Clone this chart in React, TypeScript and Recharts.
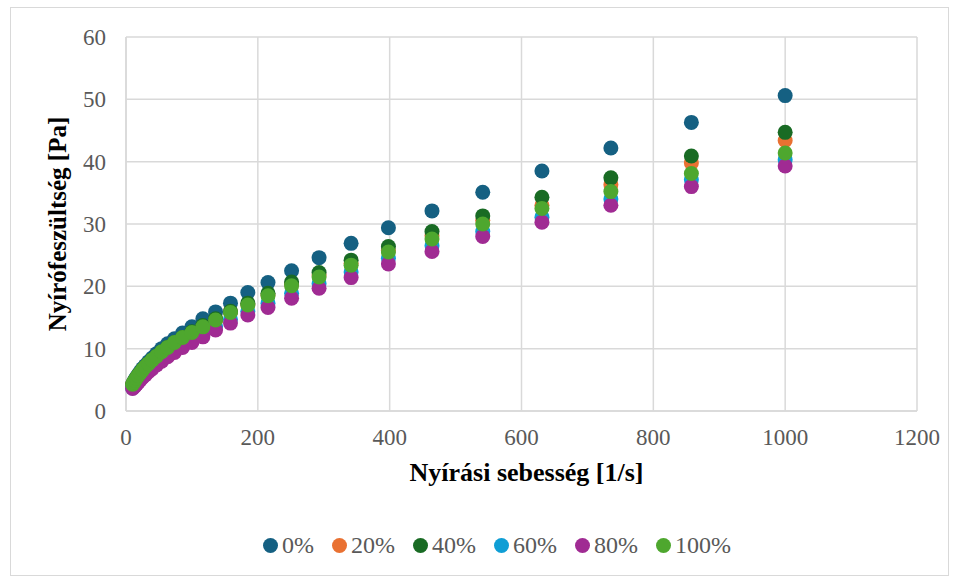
import { ScatterChart, Scatter, XAxis, YAxis, CartesianGrid, Legend } from 'recharts'

// shear rate [1/s] — log-spaced steps from the rheometer
const SHEAR_RATE = [
  10, 11.66, 13.59, 15.85, 18.48, 21.54, 25.12, 29.29, 34.15, 39.81, 46.42, 54.12, 63.1, 73.56, 85.77,
  100, 116.6, 135.9, 158.5, 184.8, 215.4, 251.2, 292.9, 341.5, 398.1, 464.2, 541.2, 631, 735.6, 857.7, 1000,
]

// shear stress [Pa] per blend ratio
const STRESS_0 = [
  4.3, 4.6, 5.0, 5.4, 5.8, 6.3, 6.8, 7.3, 7.9, 8.5, 9.2, 10.0, 10.8, 11.6, 12.5,
  13.5, 14.8, 15.9, 17.3, 19.0, 20.6, 22.5, 24.6, 26.9, 29.4, 32.1, 35.1, 38.5, 42.2, 46.3, 50.6,
]
const STRESS_20 = [
  4.2, 4.5, 4.8, 5.2, 5.6, 6.0, 6.5, 7.0, 7.5, 8.1, 8.7, 9.4, 10.1, 10.9, 11.7,
  12.5, 13.5, 14.6, 15.9, 17.1, 18.6, 20.3, 21.8, 23.7, 25.8, 28.1, 30.6, 33.0, 36.3, 39.8, 43.4,
]
const STRESS_40 = [
  4.3, 4.6, 4.9, 5.3, 5.7, 6.1, 6.6, 7.1, 7.6, 8.2, 8.8, 9.5, 10.2, 11.0, 11.8,
  12.7, 13.7, 14.8, 16.0, 17.3, 18.9, 20.7, 22.2, 24.2, 26.4, 28.8, 31.3, 34.3, 37.4, 40.9, 44.7,
]
const STRESS_60 = [
  3.7, 3.9, 4.2, 4.5, 4.8, 5.2, 5.6, 6.1, 6.6, 7.2, 7.8, 8.4, 9.1, 9.8, 10.6,
  11.5, 12.4, 13.5, 14.7, 16.0, 17.3, 18.9, 20.4, 22.3, 24.5, 26.5, 28.8, 31.1, 34.0, 37.1, 40.3,
]
const STRESS_80 = [
  3.6, 3.8, 4.0, 4.3, 4.6, 5.0, 5.4, 5.8, 6.3, 6.8, 7.4, 8.0, 8.7, 9.4, 10.2,
  11.0, 11.9, 13.0, 14.1, 15.4, 16.6, 18.1, 19.7, 21.4, 23.6, 25.6, 28.0, 30.3, 33.0, 36.0, 39.3,
]
const STRESS_100 = [
  4.3, 4.6, 4.9, 5.3, 5.7, 6.1, 6.6, 7.1, 7.6, 8.2, 8.8, 9.5, 10.2, 11.0, 11.8,
  12.6, 13.5, 14.6, 15.8, 17.0, 18.5, 20.1, 21.5, 23.4, 25.5, 27.6, 30.0, 32.5, 35.2, 38.1, 41.4,
]

const X_TICKS = [0, 200, 400, 600, 800, 1000, 1200]
const Y_TICKS = [0, 10, 20, 30, 40, 50, 60]

const SERIES = [
  { name: '0%', values: STRESS_0, color: '#156082' },
  { name: '20%', values: STRESS_20, color: '#E97132' },
  { name: '40%', values: STRESS_40, color: '#196B24' },
  { name: '60%', values: STRESS_60, color: '#0F9ED5' },
  { name: '80%', values: STRESS_80, color: '#A02B93' },
  { name: '100%', values: STRESS_100, color: '#4EA72E' },
]

const FONT = '"Times New Roman", "Liberation Serif", serif'
const GRID = '#d9d9d9'
const TEXT = '#595959'

function LegendBox() {
  return (
    <div style={{ display: 'flex', alignItems: 'center', fontFamily: FONT, fontSize: 24, color: TEXT }}>
      {SERIES.map(s => (
        <div key={s.name} style={{ display: 'flex', alignItems: 'center', marginRight: 18 }}>
          <span style={{ width: 15, height: 15, borderRadius: '50%', background: s.color, display: 'inline-block', marginRight: 4 }} />
          <span>{s.name}</span>
        </div>
      ))}
    </div>
  )
}

export default function App() {
  return (
    <div style={{ position: 'absolute', left: 0, top: 0, width: 958, height: 581, background: '#fff', fontFamily: FONT }}>
      <div style={{ position: 'absolute', left: 10, top: 7, width: 937, height: 567, border: `1px solid ${GRID}` }} />
      <ScatterChart width={958} height={581} margin={{ top: 37, right: 41, bottom: 120, left: 40 }}>
        <CartesianGrid stroke={GRID} strokeWidth={1.5} />
        <XAxis
          type="number"
          dataKey="x"
          domain={[0, 1200]}
          ticks={X_TICKS}
          height={50}
          stroke={GRID}
          strokeWidth={1.5}
          tickLine={false}
          tickMargin={12}
          tick={{ fill: TEXT, fontSize: 23, fontFamily: FONT }}
          label={{ value: 'Nyírási sebesség [1/s]', position: 'bottom', offset: 2, dx: 5, fill: '#000', fontSize: 26, fontWeight: 'bold', fontFamily: FONT }}
        />
        <YAxis
          type="number"
          dataKey="y"
          domain={[0, 60]}
          ticks={Y_TICKS}
          width={86}
          stroke={GRID}
          strokeWidth={1.5}
          tickLine={false}
          tickMargin={14}
          tick={{ fill: TEXT, fontSize: 23, fontFamily: FONT }}
          label={{ value: 'Nyírófeszültség [Pa]', angle: -90, position: 'insideLeft', offset: 17, fill: '#000', fontSize: 25, fontWeight: 'bold', fontFamily: FONT, style: { textAnchor: 'middle' } }}
        />
        <Legend
          layout="horizontal"
          verticalAlign="middle"
          align="center"
          wrapperStyle={{ top: 532, left: 263, width: 690 }}
          content={() => <LegendBox />}
        />
        {SERIES.map(s => (
          <Scatter
            key={s.name}
            name={s.name}
            data={SHEAR_RATE.map((x, i) => ({ x, y: s.values[i] }))}
            fill={s.color}
            isAnimationActive={false}
            shape={(p: any) => <circle cx={p.cx} cy={p.cy} r={7.5} fill={s.color} />}
          />
        ))}
      </ScatterChart>
    </div>
  )
}
